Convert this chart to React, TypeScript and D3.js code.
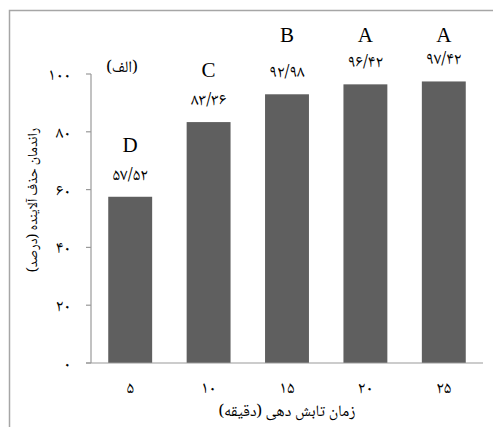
import { useEffect, useRef } from "react";
import * as d3 from "d3";

// removal efficiency vs irradiation time
const minutes = ["5", "10", "15", "20", "25"];
const removal = [57.52, 83.36, 92.98, 96.42, 97.42];
const groups = ["D", "C", "B", "A", "A"];
const yTicks = [0, 20, 40, 60, 80, 100];

const W = 493;
const H = 427;
const faNum = (s: string) => s.replace(/[0-9]/g, (c) => String.fromCharCode(0x06f0 + +c));
const fa = "'Noto Naskh Arabic', 'Noto Sans Arabic', 'DejaVu Sans', sans-serif";
const latin = "'Liberation Serif', serif";

export default function App() {
  const svgRef = useRef<SVGSVGElement>(null);

  useEffect(() => {
    if (!svgRef.current) return;
    const svg = d3.select(svgRef.current);
    svg.selectAll("*").remove();

    const x = d3.scaleBand<string>().domain(minutes).range([91, 483]).paddingInner(0.44).paddingOuter(0.22);
    const y = d3.scaleLinear().domain([0, 100]).range([363, 74]);

    // frame (only top and left visible)
    svg.append("path")
      .attr("d", `M9.5,${H} V10.5 H${W}`)
      .attr("fill", "none")
      .attr("stroke", "#a6a6a6")
      .attr("stroke-width", 1.5);

    const data = minutes.map((m, i) => ({ m, v: removal[i], g: groups[i] }));

    svg.append("g").selectAll("rect")
      .data(data)
      .enter()
      .append("rect")
      .attr("x", (d) => x(d.m)!)
      .attr("y", (d) => y(d.v))
      .attr("width", x.bandwidth())
      .attr("height", (d) => y(0) - y(d.v))
      .attr("fill", "#5f5f5f");

    // axes
    svg.append("line").attr("x1", 91).attr("x2", 91).attr("y1", y(100)).attr("y2", y(0))
      .attr("stroke", "#999").attr("stroke-width", 1.2);
    svg.append("line").attr("x1", 86).attr("x2", 483).attr("y1", y(0)).attr("y2", y(0))
      .attr("stroke", "#999").attr("stroke-width", 1.2);

    const yt = svg.append("g").selectAll("g").data(yTicks).enter().append("g")
      .attr("transform", (d) => `translate(0,${y(d)})`);
    yt.append("line").attr("x1", 86).attr("x2", 91).attr("stroke", "#999").attr("stroke-width", 1.2);
    yt.append("text")
      .attr("x", 71)
      .attr("dy", "0.35em")
      .attr("text-anchor", "end")
      .attr("font-family", fa)
      .attr("font-size", 17)
      .attr("direction", "ltr")
      .text((d) => faNum(String(d)));

    svg.append("g").selectAll("text").data(minutes).enter().append("text")
      .attr("x", (d) => x(d)! + x.bandwidth() / 2)
      .attr("y", 387)
      .attr("dy", "0.35em")
      .attr("text-anchor", "middle")
      .attr("font-family", fa)
      .attr("font-size", 17)
      .text((d) => faNum(d));

    // value labels
    svg.append("g").selectAll("text").data(data).enter().append("text")
      .attr("x", (d) => x(d.m)! + x.bandwidth() / 2)
      .attr("y", (d) => y(d.v) - 23)
      .attr("dy", "0.35em")
      .attr("text-anchor", "middle")
      .attr("direction", "ltr")
      .attr("font-family", fa)
      .attr("font-size", 17)
      .text((d) => faNum(d.v.toFixed(2).replace(".", "/")));

    // significance letters
    svg.append("g").selectAll("text").data(data).enter().append("text")
      .attr("x", (d) => x(d.m)! + x.bandwidth() / 2)
      .attr("y", (d) => (d.v > 90 ? 35 : y(d.v) - 52))
      .attr("dy", "0.35em")
      .attr("text-anchor", "middle")
      .attr("font-family", latin)
      .attr("font-size", 21)
      .text((d) => d.g);

    svg.append("text")
      .attr("x", 122)
      .attr("y", 66)
      .attr("dy", "0.35em")
      .attr("text-anchor", "middle")
      .attr("font-family", fa)
      .attr("font-size", 16)
      .text("(الف)");

    svg.append("text")
      .attr("x", 287)
      .attr("y", 410)
      .attr("dy", "0.35em")
      .attr("text-anchor", "middle")
      .attr("font-family", fa)
      .attr("font-size", 16)
      .attr("direction", "rtl")
      .text("زمان تابش دهی (دقیقه)");

    svg.append("text")
      .attr("transform", "translate(32,200) rotate(-90)")
      .attr("dy", "0.35em")
      .attr("text-anchor", "middle")
      .attr("font-family", fa)
      .attr("font-size", 14)
      .attr("direction", "rtl")
      .text("راندمان حذف آلاینده (درصد)");
  }, []);

  return (
    <svg
      ref={svgRef}
      width={W}
      height={H}
      style={{ position: "absolute", left: 0, top: 0, background: "#fff" }}
    />
  );
}
